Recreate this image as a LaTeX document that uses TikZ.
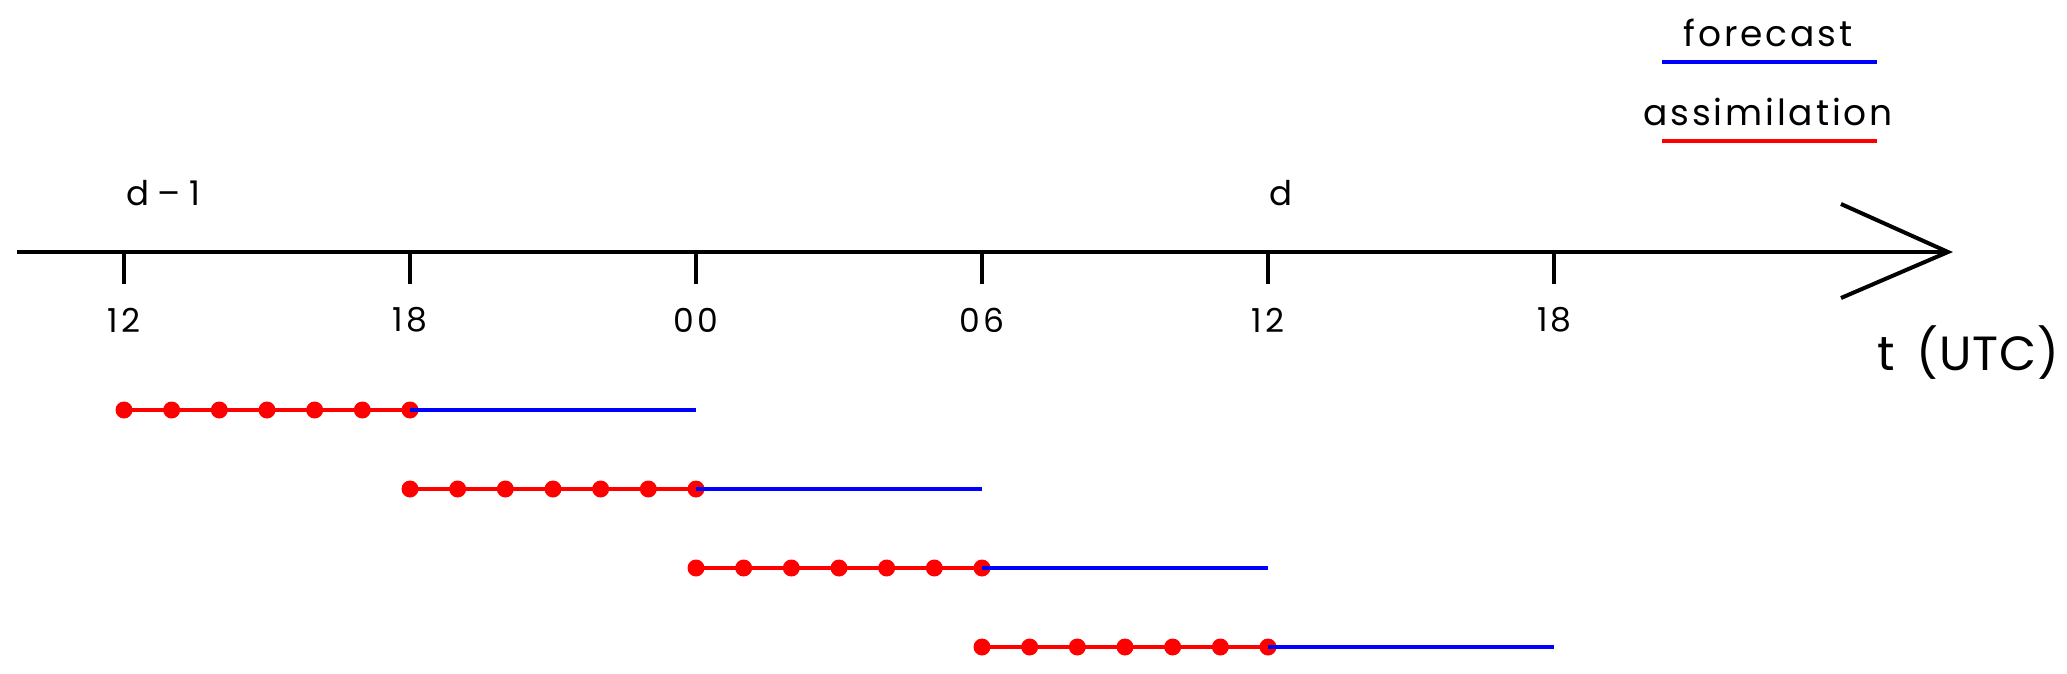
\documentclass[tikz,border=0pt]{standalone}
\usepackage{fontspec}
\setmainfont{Poppins}[LetterSpace=8]
\begin{document}
\begin{tikzpicture}[x=0.5pt,y=-0.5pt,
  axisline/.style={line width=2pt,black},
  fcline/.style={line width=2pt,blue},
  asline/.style={line width=2pt,red},
  obsdot/.style={circle,fill=red,inner sep=0pt,minimum size=8.5pt},
  ticklabel/.style={font=\fontsize{16.5}{19}\selectfont,anchor=center},
  daylabel/.style={font=\fontsize{17}{20}\selectfont,anchor=west},
  legendtext/.style={font=\fontsize{18}{21}\selectfont,anchor=center}]
\useasboundingbox[fill=white] (0,0) rectangle (2067,674);
% axis
\coordinate (a0) at (17,252);
\coordinate (tip) at (1948,252);
\coordinate (armU) at (1841,204);
\coordinate (armL) at (1841,298);
\draw[axisline] (a0) -- (tip);
\draw[axisline,line join=miter] (armU) -- (tip) -- (armL);
% ticks
\foreach \i/\lab in {0/12,1/18,2/00,3/06,4/12,5/18}{
  \coordinate (t\i) at ({124+286*\i},252);
  \coordinate (tb\i) at ({124+286*\i},284);
  \draw[axisline] (t\i) -- (tb\i);
  \node[ticklabel] (tl\i) at ({124+286*\i},320) {\lab};
}
\node[daylabel] (dm1) at (119,193) {d\hspace{0.25em}–\hspace{0.25em}1};
\node[daylabel] (dd) at (1262,193) {d};
\node[font=\fontsize{24}{27}\selectfont\addfontfeatures{LetterSpace=2},anchor=west,inner sep=0pt] (utc) at (1877,353) {t\hspace{0.45em}(UTC)};
% legend
\node[legendtext] (lf) at (1768,33) {forecast};
\coordinate (lfa) at (1662,62);
\coordinate (lfb) at (1877,62);
\draw[fcline] (lfa) -- (lfb);
\node[legendtext] (la) at (1768,112) {assimilation};
\coordinate (laa) at (1662,141);
\coordinate (lab) at (1877,141);
\draw[asline] (laa) -- (lab);
% cycles
\foreach \r/\y in {0/410,1/489,2/568,3/647}{
  \coordinate (s\r) at ({124+286*\r},\y);
  \coordinate (m\r) at ({410+286*\r},\y);
  \coordinate (e\r) at ({696+286*\r},\y);
  \draw[asline] (s\r) -- (m\r);
  \foreach \k in {0,...,6}{
    \node[obsdot] (o\r\k) at ({124+286*\r+286/6*\k},\y) {};
  }
  \draw[fcline] (m\r) -- (e\r);
}
\end{tikzpicture}
\end{document}
